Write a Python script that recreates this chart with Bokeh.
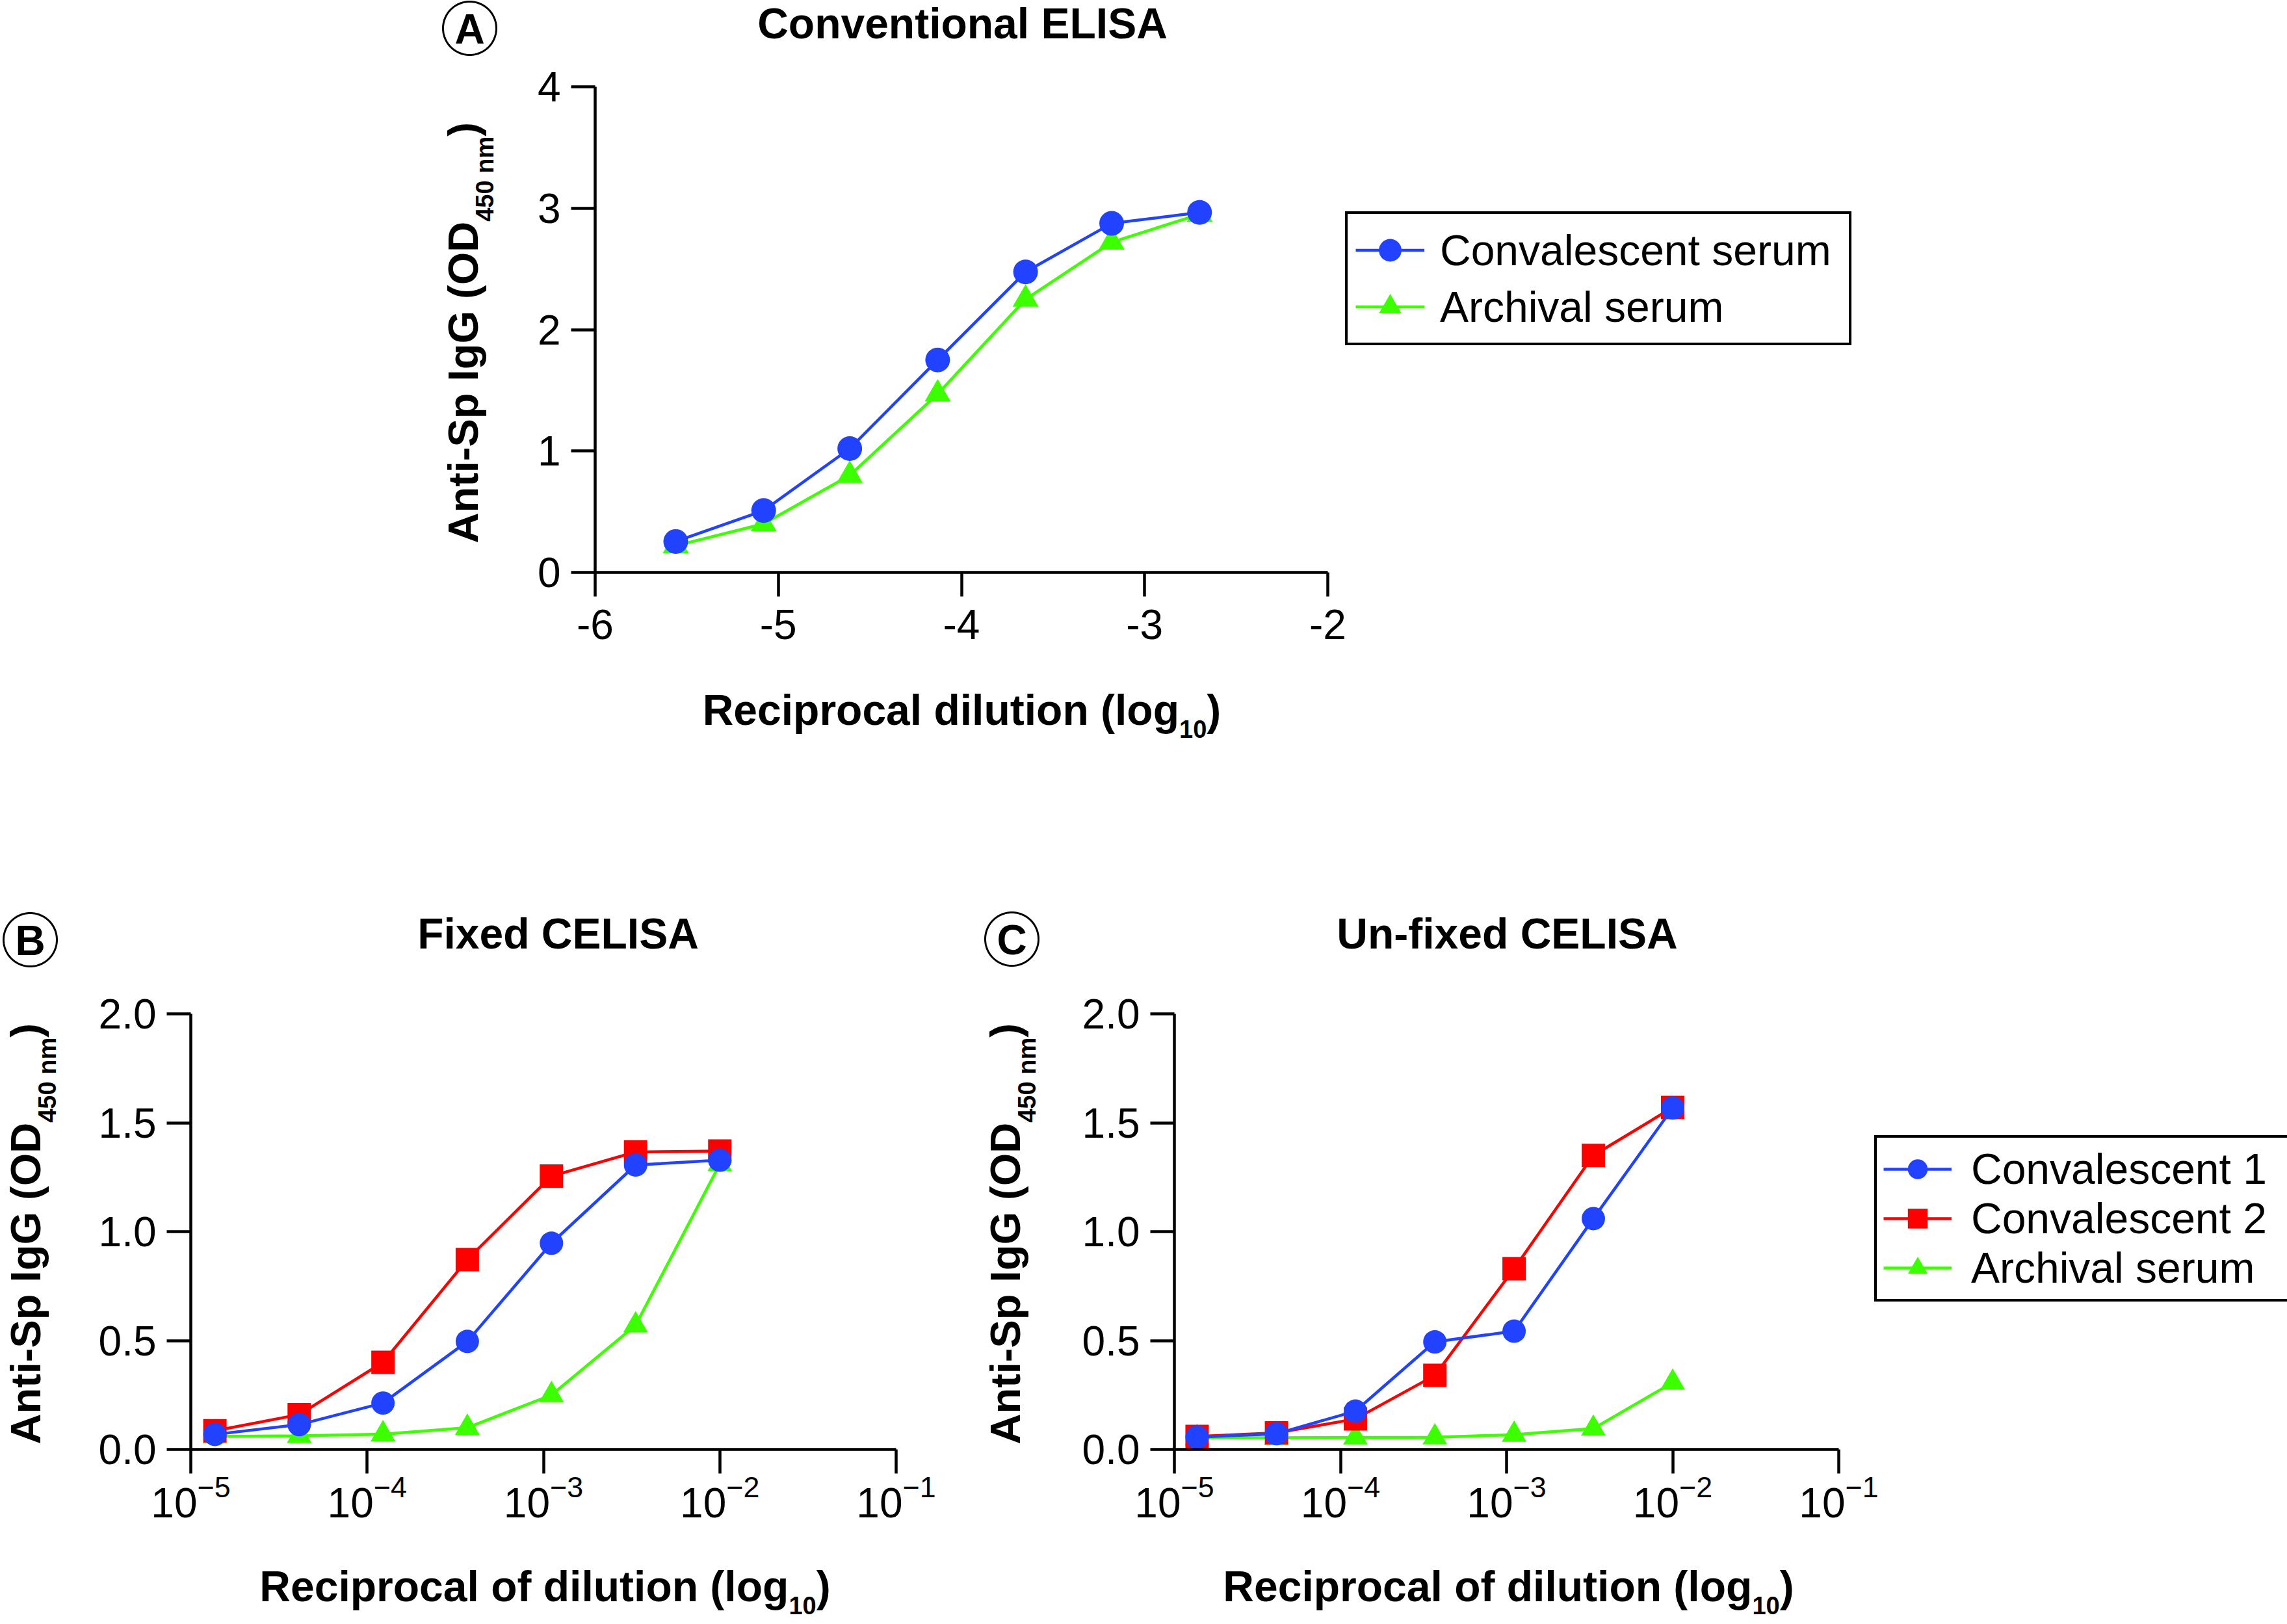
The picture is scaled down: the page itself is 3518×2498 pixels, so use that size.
import math
from bokeh.plotting import figure
from bokeh.models import (FixedTicker, Label, Legend, LegendItem, PolyAnnotation, Range1d,
                          NumeralTickFormatter)
from bokeh.layouts import column, row
from bokeh.embed import file_html
from bokeh.resources import INLINE

# ---------------- data ----------------
# Panel A - conventional ELISA, x = reciprocal dilution (log10)
a_x = [-5.56, -5.08, -4.61, -4.13, -3.65, -3.18, -2.70]
a_convalescent = [0.255, 0.51, 1.02, 1.75, 2.475, 2.875, 2.965]
a_archival = [0.22, 0.40, 0.80, 1.47, 2.25, 2.72, 2.95]
a_xticks = [-6, -5, -4, -3, -2]
a_yticks = [0, 1, 2, 3, 4]

# Panels B and C - CELISA, x = reciprocal of dilution (log axis)
bc_x = [1.37e-5, 4.12e-5, 1.23e-4, 3.70e-4, 1.11e-3, 3.33e-3, 1.0e-2]
b_conv1 = [0.069, 0.114, 0.213, 0.496, 0.947, 1.306, 1.328]
b_conv2 = [0.086, 0.16, 0.40, 0.872, 1.255, 1.366, 1.37]
b_arch = [0.06, 0.063, 0.07, 0.10, 0.25, 0.57, 1.31]
c_conv1 = [0.057, 0.072, 0.176, 0.494, 0.543, 1.06, 1.568]
c_conv2 = [0.06, 0.076, 0.14, 0.34, 0.83, 1.35, 1.57]
c_arch = [0.053, 0.054, 0.055, 0.056, 0.068, 0.096, 0.307]
bc_xticks = [1e-5, 1e-4, 1e-3, 1e-2, 1e-1]
bc_yticks = [0.0, 0.5, 1.0, 1.5, 2.0]

BLUE = "#2142FF"
RED = "#FF0000"
GREEN = "#3CFF00"
FONT = "Liberation Sans"
BASE_FIX = 0.34   # measured offset of Bokeh's alphabetic baseline, in em


class Panel:
    """A figure whose frame fills its whole canvas; axes are drawn at fixed
    locations so that text and legends outside the axes are not clipped."""

    def __init__(self, canvas, xmap, ymap, log=False):
        self.L, self.T, self.W, self.H = canvas
        self.xmap, self.ymap, self.log = xmap, ymap, log
        xr = Range1d(self.X(self.L), self.X(self.L + self.W))
        yr = Range1d(self.Y(self.T + self.H), self.Y(self.T))
        self.p = figure(frame_width=self.W, frame_height=self.H, x_range=xr, y_range=yr,
                        x_axis_type="log" if log else "linear",
                        output_backend="svg", toolbar_location=None, tools="",
                        min_border_left=0, min_border_top=0, min_border_right=0,
                        min_border_bottom=0, background_fill_color="white",
                        border_fill_color="white")
        p = self.p
        p.outline_line_color = None
        p.xgrid.visible = False
        p.ygrid.visible = False
        for ax in (p.xaxis[0], p.yaxis[0]):
            ax.axis_line_width = 4.5
            ax.axis_line_color = "black"
            ax.major_tick_line_width = 4.5
            ax.major_tick_line_color = "black"
            ax.major_tick_out = 37
            ax.major_tick_in = 0
            ax.minor_tick_line_color = None
            ax.minor_tick_out = 0
            ax.minor_tick_in = 0
            ax.major_label_text_font = FONT
            ax.major_label_text_font_size = "64px"
            ax.major_label_text_color = "black"
        p.yaxis.major_label_standoff = 16

    def _lin(self, m, px):
        (v0, p0), (v1, p1) = m
        return v0 + (px - p0) * (v1 - v0) / (p1 - p0)

    def X(self, px):
        v = self._lin(self.xmap, px)
        return 10 ** v if self.log else v

    def Y(self, py):
        return self._lin(self.ymap, py)

    def txt(self, X, Y, text, size, bold=True, align="left", vertical=False):
        d = BASE_FIX * size
        if vertical:
            X, angle = X - d, math.pi / 2
        else:
            Y, angle = Y - d, 0.0
        self.p.add_layout(Label(x=self.X(X), y=self.Y(Y), text=text, text_font=FONT,
                                text_font_size=f"{size}px",
                                text_font_style="bold" if bold else "normal",
                                text_align=align, text_baseline="alphabetic",
                                angle=angle, text_color="black"))

    def ring(self, cx, cy, r, letter):
        n = 120
        xs = [self.X(cx + r * math.cos(2 * math.pi * k / n)) for k in range(n)]
        ys = [self.Y(cy + r * math.sin(2 * math.pi * k / n)) for k in range(n)]
        self.p.add_layout(PolyAnnotation(xs=xs, ys=ys, fill_color=None, fill_alpha=0,
                                         line_color="black", line_alpha=1.0, line_width=3))
        self.txt(cx, cy + 23, letter, 64, True, "center")

    def ylabel(self, xb, ybottom):
        self.txt(xb, ybottom, "Anti-Sp IgG (OD", 65, True, "left", True)
        y2 = ybottom - 7.611 * 65          # width of the main text (em * size)
        self.txt(xb + 24, y2, "450 nm", 38, True, "left", True)
        y3 = y2 - 3.446 * 38
        self.txt(xb, y3, ")", 65, True, "left", True)

    def xlabel(self, main, main_em, xc, yb):
        total = main_em * 66 + 1.112 * 38 + 0.333 * 66
        x0 = xc - total / 2
        self.txt(x0, yb, main, 66, True, "left")
        x1 = x0 + main_em * 66
        self.txt(x1, yb + 20, "10", 38, True, "left")
        self.txt(x1 + 1.112 * 38, yb, ")", 66, True, "left")

    def series(self, x, y, color, marker, size):
        ln = self.p.line(x, y, line_color=color, line_width=4.5)
        sc = self.p.scatter(x, y, marker=marker, size=size, fill_color=color, line_color=None)
        return [ln, sc]

    def legend(self, items, left, bottom, **kw):
        leg = Legend(items=[LegendItem(label=l, renderers=r) for l, r in items],
                     location=(left - self.L, (self.T + self.H) - bottom),
                     orientation="vertical", border_line_color="black",
                     border_line_alpha=1.0, border_line_width=4,
                     background_fill_color="white", background_fill_alpha=1.0,
                     label_text_font=FONT, label_text_font_size="66px",
                     label_text_color="black", margin=0, spacing=0, **kw)
        self.p.add_layout(leg)


# ---------------- Panel A ----------------
A = Panel((0, 0, 3518, 1300), ((-6, 915), (-2, 2042)), ((0, 880), (4, 133)))
pa = A.p
pa.xaxis.fixed_location = 0
pa.yaxis.fixed_location = -6
pa.xaxis.bounds = (-6, -2)
pa.yaxis.bounds = (0, 4)
pa.xaxis.ticker = FixedTicker(ticks=a_xticks)
pa.yaxis.ticker = FixedTicker(ticks=a_yticks)
pa.xaxis.major_label_overrides = {t: str(t) for t in a_xticks}
pa.xaxis.major_label_standoff = 20
ra_g = A.series(a_x, a_archival, GREEN, "triangle", 40)
ra_b = A.series(a_x, a_convalescent, BLUE, "circle", 38)
A.legend([("Convalescent serum", ra_b), ("Archival serum", ra_g)], 2069, 531,
         padding=12, glyph_width=106, glyph_height=87, label_height=87,
         label_width=617, label_standoff=24)
A.txt(1480, 58, "Conventional ELISA", 66, True, "center")
A.ylabel(734, 835)
A.xlabel("Reciprocal dilution (log", 11.113, 1479, 1114)
A.ring(722, 43, 41, "A")

# ---------------- Panel B ----------------
B = Panel((0, 1300, 1458, 1196), ((-5, 293), (-1, 1378)), ((0, 2229), (2, 1559)), log=True)
pb = B.p
pb.xaxis.fixed_location = 0
pb.yaxis.fixed_location = 1e-5
pb.xaxis.bounds = (1e-5, 1e-1)
pb.yaxis.bounds = (0, 2)
pb.xaxis.ticker = FixedTicker(ticks=bc_xticks)
pb.yaxis.ticker = FixedTicker(ticks=bc_yticks)
pb.yaxis.formatter = NumeralTickFormatter(format="0.0")
pb.xaxis.major_label_standoff = 2
B.series(bc_x, b_arch, GREEN, "triangle", 38)
B.series(bc_x, b_conv2, RED, "square", 36)
B.series(bc_x, b_conv1, BLUE, "circle", 36)
B.txt(858, 1458, "Fixed CELISA", 66, True, "center")
B.ylabel(61, 2221)
B.xlabel("Reciprocal of dilution (log", 12.335, 838, 2462)
B.ring(46, 1445, 41, "B")

# ---------------- Panel C ----------------
C = Panel((1458, 1300, 2060, 1196), ((-5, 1806), (-1, 2828)), ((0, 2229), (2, 1559)), log=True)
pc = C.p
pc.xaxis.fixed_location = 0
pc.yaxis.fixed_location = 1e-5
pc.xaxis.bounds = (1e-5, 1e-1)
pc.yaxis.bounds = (0, 2)
pc.xaxis.ticker = FixedTicker(ticks=bc_xticks)
pc.yaxis.ticker = FixedTicker(ticks=bc_yticks)
pc.yaxis.formatter = NumeralTickFormatter(format="0.0")
pc.xaxis.major_label_standoff = 2
rc_g = C.series(bc_x, c_arch, GREEN, "triangle", 38)
rc_r = C.series(bc_x, c_conv2, RED, "square", 36)
rc_b = C.series(bc_x, c_conv1, BLUE, "circle", 36)
C.legend([("Convalescent 1", rc_b), ("Convalescent 2", rc_r), ("Archival serum", rc_g)],
         2883, 2002, padding=10, glyph_width=105, glyph_height=76,
         label_height=76, label_width=476, label_standoff=30)
C.txt(2318, 1458, "Un-fixed CELISA", 66, True, "center")
C.ylabel(1568, 2221)
C.xlabel("Reciprocal of dilution (log", 12.335, 2320, 2462)
C.ring(1556, 1444, 41, "C")

layout = column(pa, row(pb, pc))
open("out.html", "w").write(file_html(layout, INLINE))
